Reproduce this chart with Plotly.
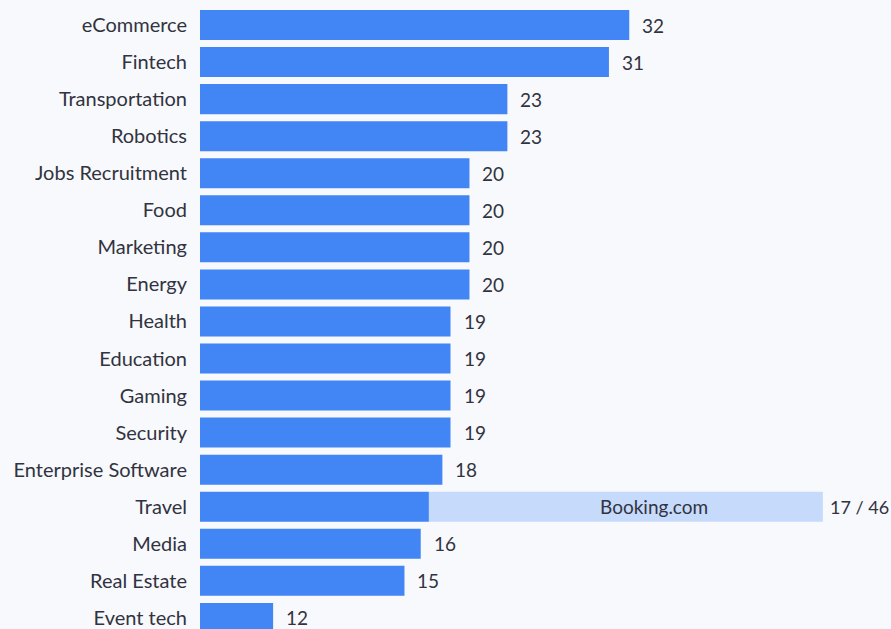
import plotly.graph_objects as go

# Categories (top to bottom)
categories = ["eCommerce", "Fintech", "Transportation", "Robotics", "Jobs Recruitment",
              "Food", "Marketing", "Energy", "Health", "Education", "Gaming", "Security",
              "Enterprise Software", "Travel", "Media", "Real Estate", "Event tech"]
# Bar lengths as drawn (snapshot of an animated race chart)
bar_values = [31.7, 30.2, 22.7, 22.7, 19.9, 19.9, 19.9, 19.9, 18.5, 18.5, 18.5, 18.5,
              17.9, 16.9, 16.3, 15.1, 5.4]
# Value labels shown next to the bars
label_values = ["32", "31", "23", "23", "20", "20", "20", "20", "19", "19", "19", "19",
                "18", "17 / 46", "16", "15", "12"]
# Highlighted company in the Travel row
highlight_category = "Travel"
highlight_company = "Booking.com"
highlight_value = 46

BG = "#f8f9fc"
BLUE = "#4285f4"
LIGHT = "#c6dafc"
TXT = "#31333f"
FONT = "Lato, 'Noto Sans', sans-serif"
FS = 20
VFS = 19

hi_idx = categories.index(highlight_category)

fig = go.Figure()
fig.add_trace(go.Bar(
    y=[highlight_category], x=[highlight_value - bar_values[hi_idx]], base=[bar_values[hi_idx]],
    orientation="h", marker=dict(color=LIGHT, line=dict(width=0)),
    hoverinfo="skip", showlegend=False,
))
fig.add_trace(go.Bar(
    y=categories, x=bar_values, orientation="h",
    marker=dict(color=BLUE, line=dict(width=0)), showlegend=False,
))

annotations = []
for i, (c, v, lab) in enumerate(zip(categories, bar_values, label_values)):
    is_hi = c == highlight_category
    xpos = highlight_value if is_hi else v
    annotations.append(dict(x=xpos, y=c, text=lab, showarrow=False, xanchor="left",
                            xshift=5 if is_hi else 11,
                            font=dict(size=18 if is_hi else VFS, color=TXT, family=FONT)))
annotations.append(dict(x=(bar_values[hi_idx] + highlight_value) / 2, y=highlight_category,
                        text=highlight_company, showarrow=False, xanchor="center", xshift=28,
                        font=dict(size=VFS, color=TXT, family=FONT)))

fig.update_layout(
    width=891, height=629,
    margin=dict(l=200, r=0, t=0, b=0),
    paper_bgcolor=BG, plot_bgcolor=BG,
    barmode="overlay", bargap=0.19,
    font=dict(family=FONT, size=FS, color=TXT),
    annotations=annotations,
    xaxis=dict(range=[0, 51.03], visible=False, fixedrange=True),
    yaxis=dict(categoryorder="array", categoryarray=categories,
               range=[16.30, -0.675], showgrid=False, zeroline=False, showline=False,
               ticks="outside", ticklen=8, tickcolor=BG, fixedrange=True,
               tickfont=dict(size=FS, color=TXT, family=FONT)),
)
fig.write_html("out.html", config={"displayModeBar": False},
               post_script="document.body.style.margin='0';document.body.style.background='" + BG + "';")
